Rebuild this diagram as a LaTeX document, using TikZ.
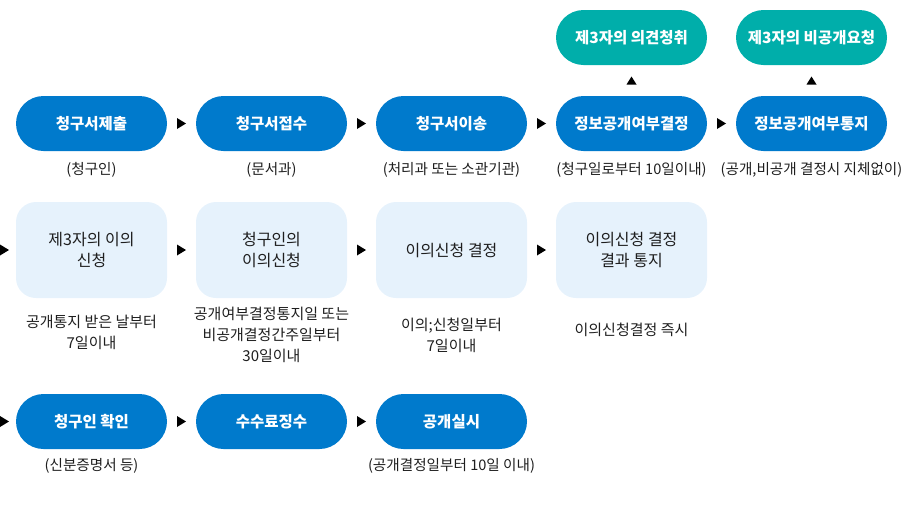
\documentclass[tikz,border=0pt]{standalone}
\usepackage{fontspec}
\setmainfont{Noto Sans CJK KR}
\usetikzlibrary{calc}
\definecolor{pillblue}{RGB}{0,122,204}
\definecolor{pillteal}{RGB}{0,174,170}
\definecolor{softblue}{RGB}{230,242,252}
\definecolor{txtdark}{RGB}{30,30,30}
\tikzset{
  pill/.style={fill=pillblue, rounded corners=27.5pt, minimum width=151pt, minimum height=55pt,
    inner sep=0pt, text=white, font=\fontsize{15.5}{18}\selectfont\bfseries},
  tealpill/.style={pill, fill=pillteal},
  softbox/.style={fill=softblue, rounded corners=20pt, minimum width=151pt, minimum height=96pt,
    inner sep=0pt, text=txtdark, align=center, font=\fontsize{16}{21}\selectfont},
  note/.style={text=txtdark, align=center, inner sep=0pt, font=\fontsize{14.6}{20}\selectfont},
  note2/.style={note, font=\fontsize{15}{21}\selectfont},
}
\newcommand{\rtri}[1]{\fill[black] ($#1+(-4.5,-5.5)$) -- ++(9,5.5) -- ++(-9,5.5) -- cycle;}
\newcommand{\utri}[1]{\fill[black] ($#1+(-5,4)$) -- ++(10,0) -- ++(-5,-8) -- cycle;}
\begin{document}
\begin{tikzpicture}[x=1pt,y=-1pt]
\useasboundingbox (0,0) rectangle (904,504);
% row 1
\node[pill] (a1) at (91.5,123.5) {청구서제출};
\node[pill] (a2) at (271.5,123.5) {청구서접수};
\node[pill] (a3) at (451.5,123.5) {청구서이송};
\node[pill] (a4) at (631.5,123.5) {정보공개여부결정};
\node[pill] (a5) at (811.5,123.5) {정보공개여부통지};
\node[tealpill] (t4) at (631.5,37.5) {제3자의 의견청취};
\node[tealpill] (t5) at (811.5,37.5) {제3자의 비공개요청};
\node[note] (n1) at (91.5,170) {(청구인)};
\node[note] (n2) at (271.5,170) {(문서과)};
\node[note] (n3) at (451.5,170) {(처리과 또는 소관기관)};
\node[note] (n4) at (631.5,170) {(청구일로부터 10일이내)};
\node[note] (n5) at (811.5,170) {(공개,비공개 결정시 지체없이)};
\rtri{($(a1.east)!0.5!(a2.west)$)}
\rtri{($(a2.east)!0.5!(a3.west)$)}
\rtri{($(a3.east)!0.5!(a4.west)$)}
\rtri{($(a4.east)!0.5!(a5.west)$)}
\utri{($(a4.north)!0.5!(t4.south)$)}
\utri{($(a5.north)!0.5!(t5.south)$)}
% row 2
\node[softbox] (b1) at (91.5,250) {제3자의 이의\\신청};
\node[softbox] (b2) at (271.5,250) {청구인의\\이의신청};
\node[softbox] (b3) at (451.5,250) {이의신청 결정};
\node[softbox] (b4) at (631.5,250) {이의신청 결정\\결과 통지};
\node[note2] (m1) at (91.5,332) {공개통지 받은 날부터\\7일이내};
\node[note2] (m2) at (271.5,335) {공개여부결정통지일 또는\\비공개결정간주일부터\\30일이내};
\node[note2] (m3) at (451.5,335) {이의;신청일부터\\7일이내};
\node[note2] (m4) at (631.5,330) {이의신청결정 즉시};
\coordinate (s2) at (4.5,250);
\rtri{(s2)}
\rtri{($(b1.east)!0.5!(b2.west)$)}
\rtri{($(b2.east)!0.5!(b3.west)$)}
\rtri{($(b3.east)!0.5!(b4.west)$)}
% row 3
\node[pill] (c1) at (91.5,421.5) {청구인 확인};
\node[pill] (c2) at (271.5,421.5) {수수료징수};
\node[pill] (c3) at (451.5,421.5) {공개실시};
\node[note] (p1) at (91.5,466) {(신분증명서 등)};
\node[note] (p3) at (451.5,466) {(공개결정일부터 10일 이내)};
\coordinate (s3) at (4.5,421.5);
\rtri{(s3)}
\rtri{($(c1.east)!0.5!(c2.west)$)}
\rtri{($(c2.east)!0.5!(c3.west)$)}
\end{tikzpicture}
\end{document}
